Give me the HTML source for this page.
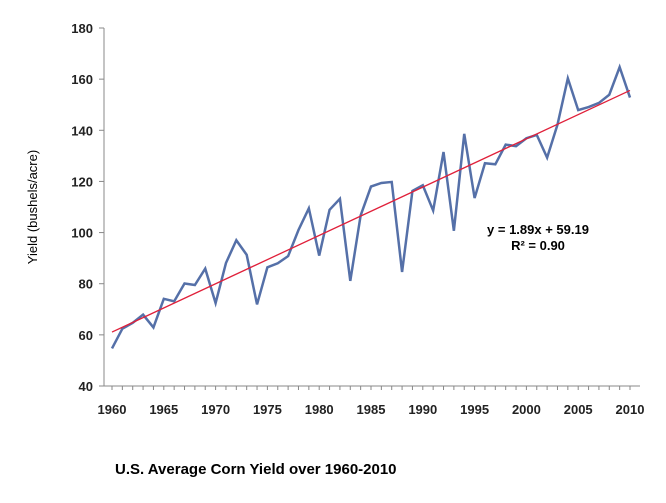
<!DOCTYPE html>
<html><head><meta charset="utf-8"><style>
body{margin:0;background:#fff;}
svg text{font-family:"Liberation Sans",Arial,sans-serif;}
</style></head><body>
<svg width="666" height="498" viewBox="0 0 666 498">
<g id="axes"></g>
<g id="marks"></g>
<text x="37" y="207" transform="rotate(-90 37 207)" text-anchor="middle" font-size="13" fill="#000">Yield (bushels/acre)</text>
<text x="538" y="234" text-anchor="middle" font-size="13" font-weight="bold" fill="#000">y = 1.89x + 59.19</text>
<text x="538" y="250" text-anchor="middle" font-size="13" font-weight="bold" fill="#000">R² = 0.90</text>
<text x="115" y="474" font-size="15" font-weight="bold" fill="#000">U.S. Average Corn Yield over 1960-2010</text>
</svg>
<script>
const years=[];for(let y=1960;y<=2010;y++)years.push(y);
const yields=[54.7,62.4,64.7,67.9,62.9,74.1,73.1,80.1,79.5,85.9,72.4,88.1,97.0,91.3,71.9,86.4,88.0,90.8,101.0,109.5,91.0,108.9,113.2,81.1,106.7,118.0,119.4,119.8,84.6,116.3,118.5,108.6,131.5,100.7,138.6,113.5,127.1,126.7,134.4,133.8,136.9,138.2,129.3,142.2,160.3,147.9,149.1,150.7,153.9,164.7,152.8];
const yTicks=[40,60,80,100,120,140,160,180];
const xTicks=[1960,1965,1970,1975,1980,1985,1990,1995,2000,2005,2010];
const slope=1.89, intercept=59.19;
const NS="http://www.w3.org/2000/svg";
const sx=v=>112+(v-1960)*(518/50);
const sy=v=>386-(v-40)*(358/140);
const ax=document.getElementById('axes'), mk=document.getElementById('marks');
function el(t,a,p){const e=document.createElementNS(NS,t);for(const k in a)e.setAttribute(k,a[k]);p.appendChild(e);return e;}
const ya=el('line',{x1:104,y1:28,x2:104,y2:386,stroke:'#888','stroke-width':1},ax);


const xa=el('line',{x1:104,y1:386,x2:640,y2:386,stroke:'#888','stroke-width':1},ax);


yTicks.forEach(v=>{
 el('line',{x1:99,y1:sy(v),x2:104,y2:sy(v),stroke:'#888'},ax);
 const t=el('text',{x:93,y:sy(v)+5,'text-anchor':'end','font-size':13,'font-weight':'bold',fill:'#222'},ax);
 t.textContent=v;
 
 
});
years.forEach(v=>el('line',{x1:sx(v),y1:386,x2:sx(v),y2:390,stroke:'#888'},ax));
xTicks.forEach(v=>{
 const t=el('text',{x:sx(v),y:414,'text-anchor':'middle','font-size':13,'font-weight':'bold',fill:'#222'},ax);
 t.textContent=v;
 
 
});
const pl=el('polyline',{points:years.map((y,i)=>sx(y)+','+sy(yields[i])).join(' '),fill:'none',stroke:'#5570a8','stroke-width':2.5,'stroke-linejoin':'miter'},mk);


const x0=1,x1=years.length;
const tl=el('line',{x1:sx(years[0]),y1:sy(slope*x0+intercept),x2:sx(years[years.length-1]),y2:sy(slope*x1+intercept),stroke:'#e0203a','stroke-width':1.3},mk);


</script>
</body></html>
